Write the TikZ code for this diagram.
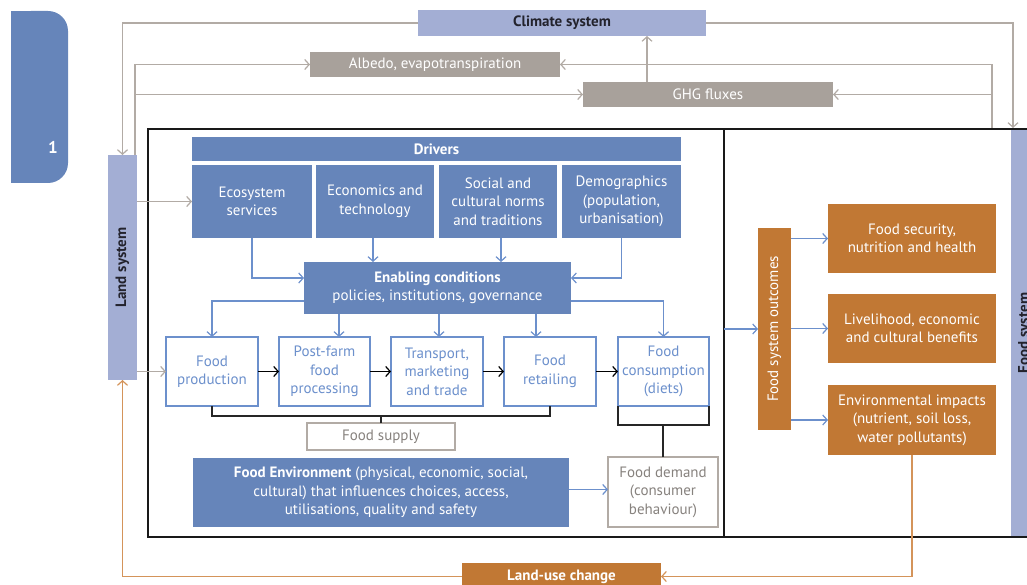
\documentclass[tikz,border=0pt]{standalone}
\usepackage{fontspec}
\setmainfont{PT Sans}
\usetikzlibrary{arrows.meta}
\definecolor{cblue}{RGB}{102,133,186}
\definecolor{cchain}{RGB}{108,144,204}
\definecolor{clav}{RGB}{163,174,212}
\definecolor{cgrayfill}{RGB}{168,161,155}
\definecolor{cgrayline}{RGB}{178,171,165}
\definecolor{cgraytext}{RGB}{135,130,126}
\definecolor{corange}{RGB}{193,120,52}
\definecolor{corangeline}{RGB}{212,148,90}
\definecolor{ctext}{RGB}{35,35,45}
\newcommand\bx[7]{%
  \pgfmathsetmacro\bxw{#4-#2}\pgfmathsetmacro\bxh{#5-#3}%
  \pgfmathsetmacro\bxcx{(#2+#4)/2}\pgfmathsetmacro\bxcy{(#3+#5)/2}%
  \node[#6, minimum width=\bxw pt, minimum height=\bxh pt] (#1) at (\bxcx,\bxcy) {#7};}
\tikzset{
  base/.style={inner sep=0pt, outer sep=0pt, align=center, font=\fontsize{15}{18.5}\selectfont},
  boldf/.style={font=\fontsize{15}{17}\selectfont\bfseries},
  bluebox/.style={base, fill=cblue, text=white},
  chainbox/.style={base, fill=white, draw=cchain, line width=1.3pt, text=cchain},
  graybox/.style={base, fill=cgrayfill, text=white},
  lavbox/.style={base, fill=clav, text=ctext},
  orangebox/.style={base, fill=corange, text=white},
  outlinebox/.style={base, fill=white, draw=cgrayline, line width=1.3pt, text=cgraytext},
  tip/.style={-{Straight Barb[length=4.5pt,width=10pt]}},
  garrow/.style={draw=cgrayline, line width=1.2pt, tip},
  barrow/.style={draw=cchain, line width=1.2pt, tip},
  karrow/.style={draw=black, line width=1.2pt, tip},
  kline/.style={draw=black!85, line width=1.4pt},
  oarrow/.style={draw=corangeline, line width=1.2pt, tip},
  frame/.style={draw=black!90, line width=1.8pt},
}
\begin{document}
\begin{tikzpicture}[x=1pt,y=-1pt]
\useasboundingbox (0,0) rectangle (1027,585);
\clip (0,0) rectangle (1027,585);
% tab
\node[fill=cblue, rounded corners=20pt, minimum width=57pt, minimum height=172pt, inner sep=0pt] (tab) at (39.5,97) {};
\fill[cblue] (11,11) rectangle (40,183);
\node[font=\fontsize{17}{18}\selectfont\bfseries, text=white] (tabnum) at (53,147) {1};
% frame
\draw[frame] (1040,129) -- (148,129) -- (148,537) -- (1040,537);
\draw[frame] (724,129) -- (724,537);
% top system boxes
\bx{climate}{418}{10}{706}{36}{lavbox, boldf}{Climate system}
\bx{albedo}{310}{52}{560}{77}{graybox}{Albedo, evapotranspiration}
\bx{ghg}{583}{82}{833}{107}{graybox}{GHG fluxes}
\bx{land}{108}{155}{137}{380}{lavbox}{}
\node[rotate=90, boldf, text=ctext] (landlbl) at (land.center) {Land system};
\bx{fsys}{1011}{130}{1041}{536}{lavbox}{}
\node[rotate=90, boldf, text=ctext] (fsyslbl) at (1025,333) {Food system};
\coordinate (fstop) at (1013,128);
\coordinate (rtop) at (992,128);
% drivers
\bx{drivers}{192}{137}{681}{161}{bluebox, boldf}{Drivers}
\bx{eco}{192}{165}{312}{238}{bluebox}{Ecosystem\\services}
\bx{econ}{316}{165}{434}{238}{bluebox}{Economics and\\technology}
\bx{soc}{439}{165}{557}{238}{bluebox}{Social and\\cultural norms\\and traditions}
\bx{demo}{562}{165}{681}{238}{bluebox}{Demographics\\(population,\\urbanisation)}
\bx{en}{304}{262}{571}{314}{bluebox}{\textbf{Enabling conditions}\\policies, institutions, governance}
% chain
\bx{fp}{166}{337}{258}{406}{chainbox}{Food\\production}
\bx{pf}{279}{337}{370}{406}{chainbox}{Post-farm\\food\\processing}
\bx{tr}{391}{337}{483}{406}{chainbox}{Transport,\\marketing\\and trade}
\bx{fr}{504}{337}{596}{406}{chainbox}{Food\\retailing}
\bx{fc}{618}{337}{709}{406}{chainbox}{Food\\consumption\\(diets)}
\bx{fs}{307}{423}{455}{450}{outlinebox}{Food supply}
\bx{fd}{608}{457}{718}{527}{outlinebox}{Food demand\\(consumer\\behaviour)}
\bx{fe}{193}{458}{569}{527}{bluebox}{\textbf{Food Environment} (physical, economic, social,\\cultural) that influences choices, access,\\utilisations, quality and safety}
% right panel
\bx{out}{758}{228}{791}{430}{orangebox}{}
\node[rotate=90, base, text=white] (outlbl) at (out.center) {Food system outcomes};
\bx{fsec}{828}{204}{996}{273}{orangebox}{Food security,\\nutrition and health}
\bx{liv}{828}{294}{996}{363}{orangebox}{Livelihood, economic\\and cultural benefits}
\bx{env}{828}{385}{996}{455}{orangebox}{Environmental impacts\\(nutrient, soil loss,\\water pollutants)}
\bx{luc}{462}{563}{661}{590}{orangebox, boldf}{Land-use change}
\coordinate (div) at (724,329);
% gray connectors
\draw[garrow] (climate.west) -| (land.north);
\draw[garrow] (climate.east) -| (fstop);
\draw[garrow] ([xshift=-2pt]land.north east) |- (albedo.west);
\draw[garrow] ([xshift=-2pt]land.north east |- ghg.west) -- (ghg.west);
\draw[garrow] (rtop) |- (albedo.east);
\draw[garrow] (rtop |- ghg.east) -- (ghg.east);
\draw[garrow] ([xshift=-61pt]ghg.north) -- ([xshift=-61pt]ghg.north |- climate.south);
\draw[garrow] (land.east |- eco.west) -- (eco.west);
\draw[garrow] (land.east |- fp.west) -- (fp.west);
% blue connectors
\draw[barrow] (eco.south) |- ([yshift=10pt]en.west);
\draw[barrow] ([xshift=-2pt]econ.south) -- ([xshift=-2pt]econ.south |- en.north);
\draw[barrow] ([xshift=3pt]soc.south) -- ([xshift=3pt]soc.south |- en.north);
\draw[barrow] (demo.south) |- ([yshift=10pt]en.east);
\draw[barrow] ([yshift=-13pt]en.west) -| (fp.north);
\draw[barrow] ([yshift=-13pt]en.east) -| (fc.north);
\draw[barrow] ([xshift=14.5pt]pf.north |- en.south) -- ([xshift=14.5pt]pf.north);
\draw[barrow] ([xshift=2pt]tr.north |- en.south) -- ([xshift=2pt]tr.north);
\draw[barrow] ([xshift=-14pt]fr.north |- en.south) -- ([xshift=-14pt]fr.north);
\draw[barrow] ([yshift=3pt]fe.east) -- ([yshift=3pt]fe.east -| fd.west);
\draw[barrow] (div) -- (out.west);
\draw[barrow] (out.east |- fsec.west) -- (fsec.west);
\draw[barrow] (out.east |- liv.west) -- (liv.west);
\draw[barrow] (out.east |- env.west) -- (env.west);
% black chain
\draw[karrow] (fp.east) -- (pf.west);
\draw[karrow] (pf.east) -- (tr.west);
\draw[karrow] (tr.east) -- (fr.west);
\draw[karrow] (fr.east) -- (fc.west);
\draw[kline] (fp.south) -- ++(0,10) -| (fr.south);
\draw[kline] (fs.north) -- ++(0,-7);
\draw[kline] (fc.south west) -- ++(0,19) -| (fc.south east);
\draw[kline] (fd.north) -- ++(0,-32);
% orange
\draw[oarrow] (env.south) |- (luc.east);
\draw[oarrow] (luc.west) -| (land.south);
\end{tikzpicture}
\end{document}
